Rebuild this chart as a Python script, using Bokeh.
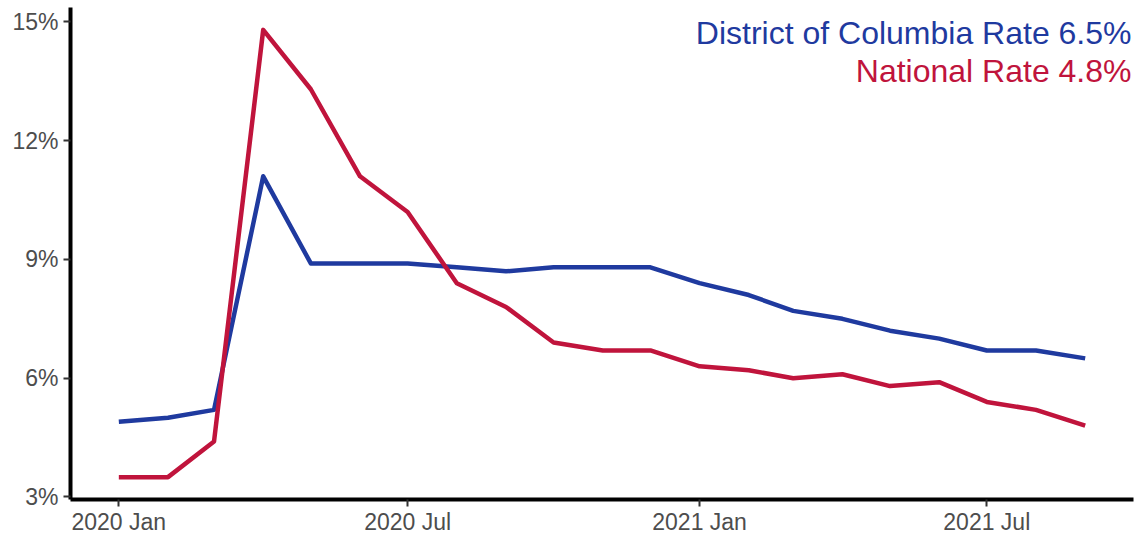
import datetime as dt
from bokeh.plotting import figure
from bokeh.models import ColumnDataSource, FixedTicker, Label, Range1d, PrintfTickFormatter
from bokeh.embed import file_html
from bokeh.resources import INLINE

# ---- data ----
months = ["2020-01", "2020-02", "2020-03", "2020-04", "2020-05", "2020-06", "2020-07",
          "2020-08", "2020-09", "2020-10", "2020-11", "2020-12", "2021-01", "2021-02",
          "2021-03", "2021-04", "2021-05", "2021-06", "2021-07", "2021-08", "2021-09"]
dc_rate = [4.9, 5.0, 5.2, 11.1, 8.9, 8.9, 8.9, 8.8, 8.7, 8.8, 8.8, 8.8, 8.4, 8.1,
           7.7, 7.5, 7.2, 7.0, 6.7, 6.7, 6.5]
national_rate = [3.5, 3.5, 4.4, 14.8, 13.3, 11.1, 10.2, 8.4, 7.8, 6.9, 6.7, 6.7, 6.3, 6.2,
                 6.0, 6.1, 5.8, 5.9, 5.4, 5.2, 4.8]
x_tick_dates = ["2020-01", "2020-07", "2021-01", "2021-07"]
x_tick_labels = ["2020 Jan", "2020 Jul", "2021 Jan", "2021 Jul"]
y_ticks = [3, 6, 9, 12, 15]
legend_dc = "District of Columbia Rate 6.5%"
legend_nat = "National Rate 4.8%"

DC_COLOR = "#1F3A9F"
NAT_COLOR = "#C0143C"
FONT = "Liberation Sans"


def to_ms(s):
    y, m = s.split("-")
    d = dt.datetime(int(y), int(m), 1, tzinfo=dt.timezone.utc)
    return d.timestamp() * 1000.0


xs = [to_ms(m) for m in months]
src = ColumnDataSource(dict(x=xs, dc=dc_rate, nat=national_rate))

xpad = 0.05 * (xs[-1] - xs[0])
all_y = dc_rate + national_rate
ypad = 0.05 * (max(all_y) - min(all_y))

p = figure(
    width=1139, height=537,
    frame_width=1063, frame_height=492,
    min_border_left=70, min_border_right=6, min_border_top=7, min_border_bottom=38,
    x_range=Range1d(xs[0] - xpad, xs[-1] + xpad),
    y_range=Range1d(min(all_y) - ypad, max(all_y) + ypad),
    output_backend="svg", toolbar_location=None,
)

p.line("x", "dc", source=src, line_color=DC_COLOR, line_width=4.5, line_join="round")
p.line("x", "nat", source=src, line_color=NAT_COLOR, line_width=4.5, line_join="round")

p.grid.visible = False
p.outline_line_color = None
p.background_fill_color = "white"
p.border_fill_color = "white"

tick_ms = [to_ms(t) for t in x_tick_dates]
p.xaxis.ticker = FixedTicker(ticks=tick_ms)
p.xaxis.major_label_overrides = {t: l for t, l in zip(tick_ms, x_tick_labels)}
p.yaxis.ticker = FixedTicker(ticks=y_ticks)
p.yaxis.formatter = PrintfTickFormatter(format="%d%%")

for ax in (p.xaxis, p.yaxis):
    ax.axis_line_color = "black"
    ax.axis_line_width = 4
    ax.major_tick_line_color = "#333333"
    ax.major_tick_line_width = 2
    ax.major_tick_out = 7
    ax.major_tick_in = 0
    ax.minor_tick_line_color = None
    ax.major_label_text_font = FONT
    ax.major_label_text_font_size = "23px"
    ax.major_label_text_color = "#4d4d4d"
p.xaxis.major_label_standoff = 2
p.yaxis.major_label_standoff = 5

lab1 = Label(x=p.x_range.end, y=p.y_range.end, x_offset=-2, y_offset=-25,
             text=legend_dc, text_align="right", text_baseline="alphabetic",
             text_font=FONT, text_font_size="32px", text_color=DC_COLOR)
lab2 = Label(x=p.x_range.end, y=p.y_range.end, x_offset=-2, y_offset=-63,
             text=legend_nat, text_align="right", text_baseline="alphabetic",
             text_font=FONT, text_font_size="32px", text_color=NAT_COLOR)
p.add_layout(lab1)
p.add_layout(lab2)

open("out.html", "w").write(file_html(p, INLINE))
